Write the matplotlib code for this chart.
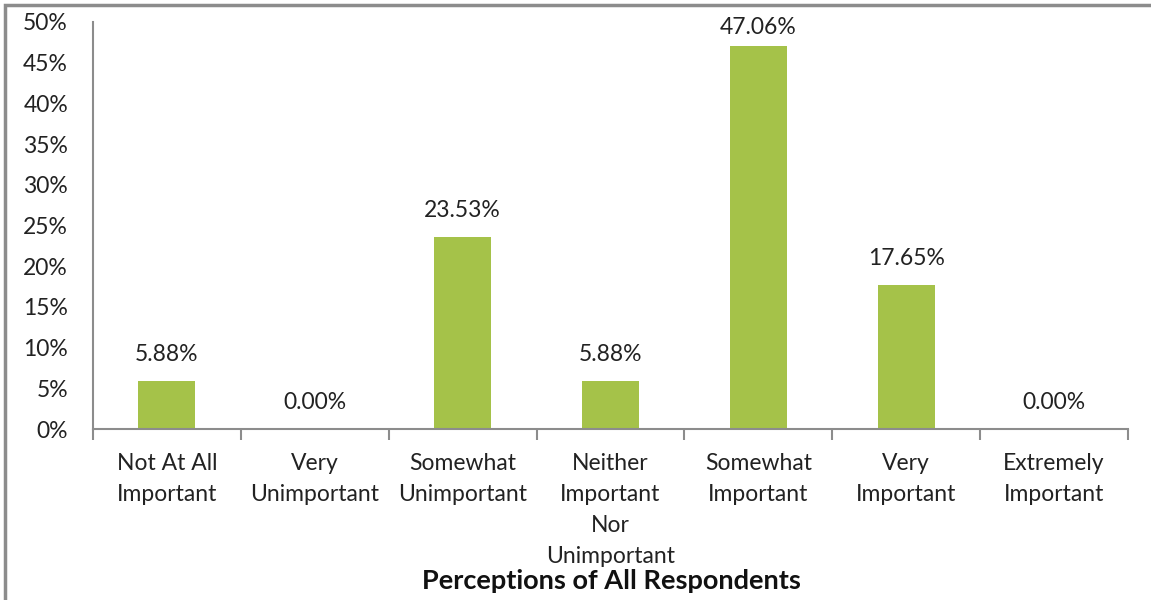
import matplotlib
matplotlib.use("Agg")
import matplotlib.pyplot as plt
from matplotlib.patches import Rectangle
import numpy as np

categories = ["Not At All\nImportant", "Very\nUnimportant", "Somewhat\nUnimportant",
              "Neither\nImportant\nNor\nUnimportant", "Somewhat\nImportant",
              "Very\nImportant", "Extremely\nImportant"]
values = [5.88, 0.00, 23.53, 5.88, 47.06, 17.65, 0.00]
yticks = [0, 5, 10, 15, 20, 25, 30, 35, 40, 45, 50]
title = "Perceptions of All Respondents"

plt.rcParams['font.family'] = ['Lato', 'DejaVu Sans']
FS = 16.5
fig = plt.figure(figsize=(11.51, 6), dpi=100)
W, H = 1151, 600
ax = fig.add_axes([93 / W, 1 - 429 / H, (1128 - 93) / W, (429 - 22) / H])

x = np.arange(len(values))
ax.bar(x, values, width=0.385, color="#A5C249", zorder=2)
ax.set_xlim(-0.5, len(values) - 0.5)
ax.set_ylim(0, 50)
ax.set_yticks(yticks)
ax.set_yticklabels([f"{v}%" for v in yticks], fontsize=FS, color="#222222")
ax.tick_params(axis='y', length=0, pad=18)
ax.set_xticks(np.arange(-0.5, len(values), 1.0))
ax.set_xticklabels([])
ax.tick_params(axis='x', length=8, width=1.5, color="#8c8c8c", direction='out')
for i, c in enumerate(categories):
    ax.text(i, -3.0, c, ha='center', va='top', fontsize=FS, color="#222222",
            linespacing=1.58, clip_on=False)
for s in ['top', 'right']:
    ax.spines[s].set_visible(False)
for s in ['left', 'bottom']:
    ax.spines[s].set_color("#8c8c8c")
    ax.spines[s].set_linewidth(1.5)

for i, v in enumerate(values):
    ax.text(i, min(v + 3.3, 49.3), f"{v:.2f}%", ha='center', va='center', fontsize=FS,
            color="#222222", clip_on=False)

fig.text(611 / W, 1 - 581 / H, title, ha='center', va='center', fontsize=19.5,
         fontweight='bold', color="#111111")

# outer frame (cropped on right/bottom)
fig.add_artist(Rectangle((5 / W, -0.1), 1.2, 1 - 5 / H + 0.1, transform=fig.transFigure,
                         fill=False, edgecolor="#8c8c8c", linewidth=2.5))

fig.savefig("out.png", dpi=100)
